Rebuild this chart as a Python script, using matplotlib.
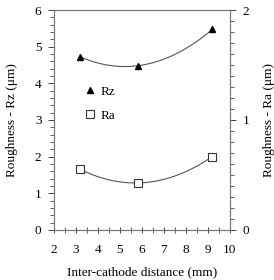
import numpy as np
import matplotlib
matplotlib.use("Agg")
import matplotlib.pyplot as plt
from matplotlib.ticker import MultipleLocator

distance = [3.2, 5.8, 9.2]
rz_values = [4.72, 4.48, 5.47]
ra_values = [0.55, 0.427, 0.667]

plt.rcParams["font.family"] = ["Liberation Serif", "DejaVu Serif"]
plt.rcParams["font.size"] = 9.5

fig = plt.figure(figsize=(2.74, 2.80), dpi=100)
ax = fig.add_axes([0.197, 0.179, 0.642, 0.785])
ax2 = ax.twinx()

# quadratic trend lines through the points
xs = np.linspace(min(distance), max(distance), 200)
pz = np.polyfit(distance, rz_values, 2)
pa = np.polyfit(distance, ra_values, 2)
ax.plot(xs, np.polyval(pz, xs), color="#555555", lw=0.8)
ax2.plot(xs, np.polyval(pa, xs), color="#555555", lw=0.8)

ax.plot(distance, rz_values, "^", color="black", ms=5, ls="none", label="Rz")
ax2.plot(distance, ra_values, "s", mfc="white", mec="#333333", mew=0.8, ms=5.5,
         ls="none", label="Ra")

ax.set_xlim(2, 10)
ax.set_ylim(0, 6)
ax2.set_ylim(0, 2)
ax.xaxis.set_major_locator(MultipleLocator(1))
ax.xaxis.set_minor_locator(MultipleLocator(0.5))
ax.yaxis.set_major_locator(MultipleLocator(1))
ax.yaxis.set_minor_locator(MultipleLocator(0.2))
ax2.yaxis.set_major_locator(MultipleLocator(1))
ax2.yaxis.set_minor_locator(MultipleLocator(0.1))

for a in (ax, ax2):
    a.tick_params(which="major", length=4, width=0.7, color="#444444", pad=5)
    a.tick_params(which="minor", length=3, width=0.6, color="#444444")
    for s in a.spines.values():
        s.set_color("#777777")
        s.set_linewidth(0.8)
ax.tick_params(axis="x", which="both", direction="inout", length=5, pad=8)

ax.set_xlabel("Inter-cathode distance (mm)", labelpad=7)
ax.set_ylabel("Roughness - Rz (\u03bcm)", labelpad=12)
ax2.set_ylabel("Roughness - Ra (\u03bcm)", labelpad=10)

h1, l1 = ax.get_legend_handles_labels()
h2, l2 = ax2.get_legend_handles_labels()
ax.legend(h1 + h2, l1 + l2, loc="upper left", bbox_to_anchor=(0.11, 0.71),
          frameon=False, handlelength=0.8, handletextpad=0.4, labelspacing=0.9,
          fontsize=9.5)

fig.savefig("out.png", dpi=100)
